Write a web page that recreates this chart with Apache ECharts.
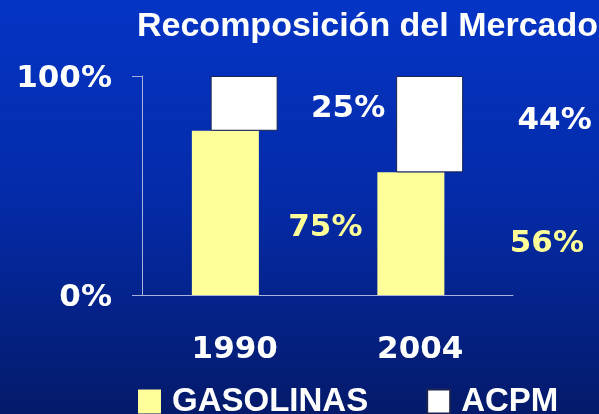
<!DOCTYPE html>
<html>
<head>
<meta charset="utf-8">
<script src="https://cdn.jsdelivr.net/npm/echarts@6/dist/echarts.min.js"></script>
<style>
  html, body { margin: 0; padding: 0; }
  #chart { width: 599px; height: 414px; }
</style>
</head>
<body>
<div id="chart"></div>
<script>
// data
var years = ['1990', '2004']
var gasolinas = [75, 56]
var acpm = [25, 44]
var pctTicks = [0, 100]

// label placement (the labels sit to the right of their bars)
var gasLabelOffsets = [[100, 15], [136, 10]]
var acpmLabelOffsets = [[104, 6], [125, -3]]

var numFont = 'DejaVu Sans'
var txtFont = 'Liberation Sans'

var chart = echarts.init(document.getElementById('chart'))

var option = {
  backgroundColor: {
    type: 'linear', x: 0, y: 0, x2: 0, y2: 1,
    colorStops: [
      { offset: 0, color: '#0535c6' },
      { offset: 0.5, color: '#042aa6' },
      { offset: 1, color: '#041a6a' }
    ]
  },
  animation: false,
  title: {
    text: 'Recomposición del Mercado',
    left: 137,
    top: 10,
    padding: 0,
    textStyle: { color: '#ffffff', fontFamily: txtFont, fontWeight: 'bold', fontSize: 34 }
  },
  legend: {
    data: ['GASOLINAS', 'ACPM'],
    left: 138,
    top: 385,
    padding: 0,
    icon: 'rect',
    itemWidth: 23,
    itemHeight: 24,
    itemGap: 58,
    textStyle: { color: '#ffffff', fontFamily: txtFont, fontWeight: 'bold', fontSize: 33, padding: [0, 0, 0, 6] }
  },
  grid: { left: 142, right: 86, top: 76, bottom: 119 },
  xAxis: {
    type: 'category',
    data: years,
    axisLine: { lineStyle: { color: '#a9b2dc', width: 1 } },
    axisTick: { length: 11, lineStyle: { color: '#a9b2dc' } },
    axisLabel: { color: '#ffffff', fontFamily: numFont, fontWeight: 'bold', fontSize: 31, margin: 39 }
  },
  yAxis: {
    type: 'value',
    min: pctTicks[0],
    max: pctTicks[1],
    interval: pctTicks[1] - pctTicks[0],
    splitLine: { show: false },
    axisLine: { show: true, lineStyle: { color: '#a9b2dc', width: 1 } },
    axisTick: { show: true, length: 10, lineStyle: { color: '#a9b2dc' } },
    axisLabel: {
      margin: 30,
      formatter: '{p|{value}%}',
      rich: {
        p: { color: '#ffffff', fontFamily: numFont, fontWeight: 'bold', fontSize: 31, padding: [6, 0, 0, 0] }
      }
    }
  },
  series: [
    {
      name: 'GASOLINAS',
      type: 'bar',
      stack: 'gas',
      barWidth: 67,
      barGap: '-72%',
      itemStyle: { color: '#ffff99' },
      label: {
        show: true, position: 'inside', formatter: '{c}%',
        color: '#ffff99', fontFamily: numFont, fontWeight: 'bold', fontSize: 31
      },
      data: gasolinas.map(function (v, i) { return { value: v, label: { offset: gasLabelOffsets[i] } } })
    },
    {
      name: 'base',
      type: 'bar',
      stack: 'acpm',
      barWidth: 67,
      silent: true,
      itemStyle: { color: 'rgba(0,0,0,0)' },
      data: gasolinas
    },
    {
      name: 'ACPM',
      type: 'bar',
      stack: 'acpm',
      barWidth: 67,
      itemStyle: { color: '#ffffff', borderColor: '#1b2350', borderWidth: 1 },
      label: {
        show: true, position: 'inside', formatter: '{c}%',
        color: '#ffffff', fontFamily: numFont, fontWeight: 'bold', fontSize: 31
      },
      data: acpm.map(function (v, i) { return { value: v, label: { offset: acpmLabelOffsets[i] } } })
    }
  ]
}
chart.setOption(option)
</script>
</body>
</html>
